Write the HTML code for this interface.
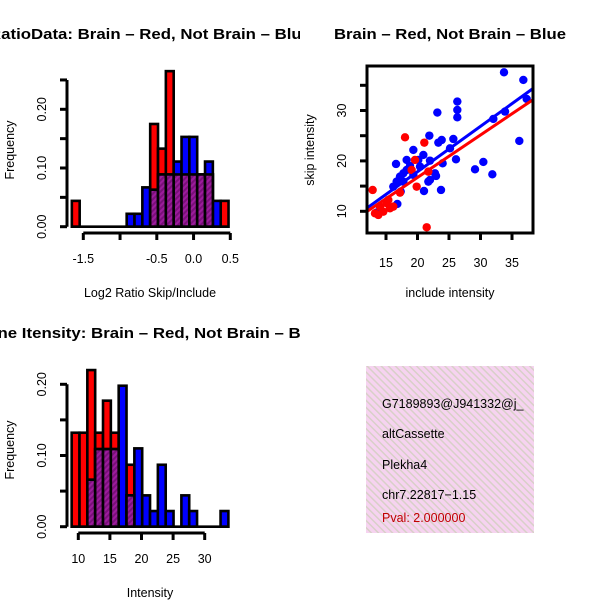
<!DOCTYPE html>
<html><head><meta charset="utf-8"><style>
html,body{margin:0;padding:0;background:#fff}
svg{display:block;font-family:"Liberation Sans",Arial,sans-serif}
</style></head><body>
<svg id="chart" width="600" height="600" viewBox="0 0 600 600">
<defs>
<clipPath id="clipL"><rect x="0" y="0" width="300" height="600"/></clipPath>
<clipPath id="clipR"><rect x="300" y="0" width="300" height="600"/></clipPath>
<clipPath id="clipScatter"><rect x="367" y="66" width="166" height="167"/></clipPath>
<clipPath id="clipInfo"><rect x="366" y="366" width="168" height="167"/></clipPath>
<pattern id="purpleHatch" width="4" height="4" patternUnits="userSpaceOnUse" patternTransform="rotate(45)">
<rect width="4" height="4" fill="#9c1c9c"/><rect width="2" height="4" fill="#7a107a"/></pattern>
<pattern id="pinkHatch" width="5" height="5" patternUnits="userSpaceOnUse" patternTransform="rotate(-45)">
<rect width="5" height="5" fill="#f6d3f0"/><rect width="1.5" height="5" fill="#d8d0c8"/></pattern>
</defs>
<g id="p1" clip-path="url(#clipL)"></g>
<g id="p2"></g>
<g id="p3" clip-path="url(#clipL)"></g>
<g id="p4">
<rect x="366" y="366" width="168" height="167" fill="url(#pinkHatch)"/>
<g clip-path="url(#clipInfo)" font-size="12.5">
<text x="382" y="408">G7189893@J941332@j_</text>
<text x="382" y="438">altCassette</text>
<text x="382" y="469">Plekha4</text>
<text x="382" y="499">chr7.22817−1.15</text>
<text x="382" y="522" fill="#c00000">Pval: 2.000000</text>
</g>
</g>
</svg>
<script>
// ---- Ratio histogram data ----
const ratioBinStart = -1.656;
const ratioBinWidth = 0.1066;
const ratioRed  = [0.044,0,0,0,0,0,0,0,0,0,0.175,0.133,0.265,0.089,0.089,0.089,0.089,0.089,0,0.044];
const ratioBlue = [0,0,0,0,0,0,0,0.022,0.022,0.067,0.063,0.089,0.089,0.111,0.153,0.153,0.089,0.111,0.044,0];
const ratioXTicks = [-1.5,-1.0,-0.5,0.0,0.5];
const ratioXLabels = ["-1.5","","-0.5","0.0","0.5"];
const ratioYTicks = [0,0.05,0.10,0.15,0.20,0.25];
const ratioYLabels = ["0.00","","0.10","","0.20",""];
// ---- Intensity histogram data ----
const intBinStart = 8.95;
const intBinWidth = 1.24;
const intRed  = [0.132,0.132,0.22,0.132,0.177,0.132,0,0.087,0,0,0,0,0,0,0,0,0,0,0,0];
const intBlue = [0,0,0.066,0.109,0.109,0.109,0.198,0.044,0.11,0.044,0.022,0.087,0.022,0,0.044,0.022,0,0,0,0.022];
const intXTicks = [10,15,20,25,30];
const intXLabels = ["10","15","20","25","30"];
const intYTicks = [0,0.05,0.10,0.15,0.20];
const intYLabels = ["0.00","","0.10","","0.20"];
// ---- Scatter data ----
const blueX = [33.73,36.80,37.33,26.32,23.15,26.32,26.32,33.89,32.04,36.16,21.88,23.84,23.31,25.69,25.16,26.11,29.13,30.45,31.88,19.34,20.93,21.98,23.99,16.59,18.28,18.81,20.40,17.75,16.69,22.78,22.94,21.72,21.98,17.75,17.33,21.03,23.73,16.80,13.52,18.28,19.34,17.22,16.16,20.13];
const blueY = [37.58,36.06,32.30,31.77,29.59,30.11,28.65,29.78,28.32,23.96,25.01,24.15,23.62,24.35,22.50,20.32,18.33,19.79,17.34,22.17,21.18,20.05,19.52,19.39,20.19,19.00,18.86,17.54,15.89,17.54,17.01,15.89,16.22,15.89,13.90,14.03,14.23,11.46,9.74,18.20,17.21,16.88,14.89,20.19];
const redX = [12.88,18.02,21.08,19.87,21.46,17.22,13.25,14.05,15.11,15.63,14.58,13.78,16.16,19.60,19.07,21.72,15.37];
const redY = [14.23,24.68,23.62,14.89,6.83,13.70,9.60,10.93,11.59,10.60,9.93,9.27,10.93,20.19,18.20,17.87,12.25];
const fitBlue = [-0.14, 0.90]; // intercept, slope
const fitRed  = [-0.12, 0.842];
const scXTicks = [15,20,25,30,35];
const scYTicks = [10,15,20,25,30,35];
const scYLabels = ["10","","20","","30",""];

const NS = "http://www.w3.org/2000/svg";
function mk(parent, tag, attrs, text){
  const e = document.createElementNS(NS, tag);
  for (const k in attrs) e.setAttribute(k, attrs[k]);
  if (text !== undefined) e.textContent = text;
  parent.appendChild(e); return e;
}

function histPanel(g, cfg){
  const sx = v => cfg.x0 + (v - cfg.xv0) * cfg.xs;
  const sy = v => cfg.y0 - v * cfg.ys;
  const n = cfg.red.length;
  const drawBars = (vals, fill, name) => {
    for (let i = 0; i < n; i++){
      if (vals[i] <= 0) continue;
      const xa = sx(cfg.binStart + i*cfg.binWidth), xb = sx(cfg.binStart + (i+1)*cfg.binWidth);
      const r = mk(g, "rect", {x:xa, y:sy(vals[i]), width:xb-xa, height:sy(0)-sy(vals[i]), fill:fill, stroke:"#000", "stroke-width":2.6});
      
      
    }
  };
  drawBars(cfg.red, "#ff0000", "red");
  drawBars(cfg.blue, "#0000ff", "blue");
  const ov = cfg.red.map((v,i)=>Math.min(v, cfg.blue[i]));
  drawBars(ov, "url(#purpleHatch)", "overlap");
  const bl = mk(g, "line", {x1:sx(cfg.binStart), x2:sx(cfg.binStart+n*cfg.binWidth), y1:sy(0), y2:sy(0), stroke:"#000","stroke-width":2.6});
  
  
  const xa = mk(g, "g", {});
  
  
  const xt = cfg.xTicks;
  mk(xa, "line", {x1:sx(xt[0]), x2:sx(xt[xt.length-1]), y1:cfg.axY, y2:cfg.axY, stroke:"#000","stroke-width":3});
  xt.forEach((t,i)=>{
    mk(xa, "line", {x1:sx(t), x2:sx(t), y1:cfg.axY, y2:cfg.axY+7, stroke:"#000","stroke-width":3});
    if (cfg.xLabels[i]) mk(xa, "text", {x:sx(t), y:cfg.axY+30, "text-anchor":"middle","font-size":12.5}, cfg.xLabels[i]);
  });
  const ya = mk(g, "g", {});
  
  
  const yt = cfg.yTicks;
  mk(ya, "line", {x1:67, x2:67, y1:sy(yt[0]), y2:sy(yt[yt.length-1]), stroke:"#000","stroke-width":3});
  yt.forEach((t,i)=>{
    mk(ya, "line", {x1:60, x2:67, y1:sy(t), y2:sy(t), stroke:"#000","stroke-width":3});
    if (cfg.yLabels[i]) mk(ya, "text", {x:46, y:sy(t), "text-anchor":"middle","font-size":12.5, transform:`rotate(-90 46 ${sy(t)})`}, cfg.yLabels[i]);
  });
  const yl = mk(g, "text", {x:14, y:cfg.yLabelY, "text-anchor":"middle","font-size":12.5, transform:`rotate(-90 14 ${cfg.yLabelY})`}, "Frequency");
  
  
  const xl = mk(g, "text", {x:150, y:cfg.xTitleY, "text-anchor":"middle","font-size":12.5}, cfg.xTitle);
  
  
  const tt = mk(g, "text", {x:150, y:cfg.titleY, "text-anchor":"middle","font-size":15,"font-weight":"bold", textLength:cfg.titleLen, lengthAdjust:"spacingAndGlyphs"}, cfg.title);
  
  
}

histPanel(document.getElementById("p1"), {
  x0:83.3, xv0:-1.5, xs:73.5, y0:226.7, ys:587,
  binStart:ratioBinStart, binWidth:ratioBinWidth, red:ratioRed, blue:ratioBlue,
  xTicks:ratioXTicks, xLabels:ratioXLabels, yTicks:ratioYTicks, yLabels:ratioYLabels,
  axY:233, yLabelY:150, xTitle:"Log2 Ratio Skip/Include", xTitleY:297,
  title:"RatioData: Brain – Red, Not Brain – Blue", titleY:39, titleLen:322
});
histPanel(document.getElementById("p3"), {
  x0:78.3, xv0:10, xs:6.32, y0:526.7, ys:712,
  binStart:intBinStart, binWidth:intBinWidth, red:intRed, blue:intBlue,
  xTicks:intXTicks, xLabels:intXLabels, yTicks:intYTicks, yLabels:intYLabels,
  axY:533, yLabelY:450, xTitle:"Intensity", xTitleY:597,
  title:"Gene Itensity: Brain – Red, Not Brain – Blue", titleY:338, titleLen:350
});

(function(){
  const g = document.getElementById("p2");
  const sx = v => 386 + (v - 15) * 6.3;
  const sy = v => 211.3 - (v - 10) * 5.04;
  const pts = mk(g, "g", {"clip-path":"url(#clipScatter)"});
  
  
  blueX.forEach((x,i)=>{
    const c = mk(pts, "circle", {cx:sx(x), cy:sy(blueY[i]), r:4.2, fill:"#0000ff"});
    
    
  });
  redX.forEach((x,i)=>{
    const c = mk(pts, "circle", {cx:sx(x), cy:sy(redY[i]), r:4.2, fill:"#ff0000"});
    
    
  });
  [[fitBlue,"#0000ff","blue-fit-line"],[fitRed,"#ff0000","red-fit-line"]].forEach(([f,col,nm])=>{
    const xa = 10, xb = 40;
    const l = mk(pts, "line", {x1:sx(xa), y1:sy(f[0]+f[1]*xa), x2:sx(xb), y2:sy(f[0]+f[1]*xb), stroke:col, "stroke-width":3});
    
    
  });
  const box = mk(g, "rect", {x:367, y:66, width:166, height:167, fill:"none", stroke:"#000", "stroke-width":3});
  
  
  const xa = mk(g, "g", {});
  
  
  scXTicks.forEach(t=>{
    mk(xa, "line", {x1:sx(t), x2:sx(t), y1:233, y2:240, stroke:"#000","stroke-width":3});
    mk(xa, "text", {x:sx(t), y:267, "text-anchor":"middle","font-size":12.5}, String(t));
  });
  const ya = mk(g, "g", {});
  
  
  scYTicks.forEach((t,i)=>{
    mk(ya, "line", {x1:360, x2:367, y1:sy(t), y2:sy(t), stroke:"#000","stroke-width":3});
    if (scYLabels[i]) mk(ya, "text", {x:346, y:sy(t), "text-anchor":"middle","font-size":12.5, transform:`rotate(-90 346 ${sy(t)})`}, scYLabels[i]);
  });
  const yl = mk(g, "text", {x:314, y:150, "text-anchor":"middle","font-size":12.5, transform:"rotate(-90 314 150)"}, "skip intensity");
  
  
  const xl = mk(g, "text", {x:450, y:297, "text-anchor":"middle","font-size":12.5}, "include intensity");
  
  
  const tt = mk(g, "text", {x:450, y:39, "text-anchor":"middle","font-size":15,"font-weight":"bold", textLength:232, lengthAdjust:"spacingAndGlyphs"}, "Brain – Red, Not Brain – Blue");
  
  
})();
</script>
</body></html>
